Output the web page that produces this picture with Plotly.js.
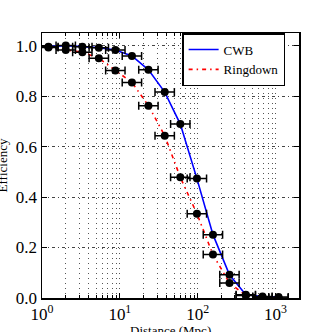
<!DOCTYPE html>
<html>
<head>
<meta charset="utf-8">
<script src="https://cdn.plot.ly/plotly-3.0.1.min.js"></script>
<style>
  html, body { margin: 0; padding: 0; background: #fff; }
  #graph { width: 332px; height: 332px; }
</style>
</head>
<body>
<div id="graph"></div>
<script>
// distance bins (Mpc), shared by both searches
const distance = [1.21, 2.02, 3.3, 5.37, 8.76, 14.3, 23.3, 37.7, 59.8, 97.7, 157, 256, 415, 679, 1092];
const cwbEff = [0.996, 1.0, 0.996, 0.992, 0.983, 0.959, 0.904, 0.816, 0.689, 0.473, 0.251, 0.092, 0.013, 0.006, 0.004];
const ringdownEff = [0.993, 0.983, 0.974, 0.95, 0.901, 0.854, 0.762, 0.643, 0.478, 0.334, 0.172, 0.059, 0.01, 0.003, 0.0];

const xTickVals = [1, 10, 100, 1000];
const xTickText = ['10<sup>0</sup>', '10<sup>1</sup>', '10<sup>2</sup>', '10<sup>3</sup>'];
const yTickVals = [0, 0.2, 0.4, 0.6, 0.8, 1.0];

let minorVals = [];
for (let d = 1; d <= 1000; d *= 10) {
    for (let k = 2; k <= 9; k++) minorVals.push(k * d);
}

const serif = 'Liberation Serif, DejaVu Serif, serif';
const gridDots = '1px,4px';

let errBars = {
    type: 'percent',
    symmetric: false,
    value: 33,
    valueminus: 25,
    color: 'black',
    thickness: 1.5,
    width: 4
};

let cwb_line = {
    type: 'scatter', mode: 'lines',
    x: distance, y: cwbEff,
    name: 'CWB',
    line: {color: '#0000ff', width: 1.6}
};

let ringdown_line = {
    type: 'scatter', mode: 'lines',
    x: distance, y: ringdownEff,
    name: 'Ringdown',
    line: {color: '#ff0000', width: 1.6, dash: '4px,4px,1.5px,4px'}
};

let cwb_points = {
    type: 'scatter', mode: 'markers',
    x: distance, y: cwbEff,
    showlegend: false,
    marker: {color: 'black', size: 8},
    error_x: errBars
};

let ringdown_points = {
    type: 'scatter', mode: 'markers',
    x: distance, y: ringdownEff,
    showlegend: false,
    marker: {color: 'black', size: 8},
    error_x: errBars
};

let layout = {
    width: 332, height: 332,
    margin: {l: 42, r: 33, t: 33, b: 34},
    paper_bgcolor: 'white',
    plot_bgcolor: 'white',
    font: {family: serif, size: 17, color: 'black'},
    showlegend: true,
    legend: {
        x: 0.946, xanchor: 'right',
        y: 1, yanchor: 'top',
        bgcolor: 'white',
        bordercolor: 'black',
        borderwidth: 1.5,
        font: {family: serif, size: 13},
        itemwidth: 30,
        tracegroupgap: 0
    },
    xaxis: {
        type: 'log',
        range: [0, Math.log10(2000)],
        tickmode: 'array',
        tickvals: xTickVals,
        ticktext: xTickText,
        ticks: 'inside', ticklen: 5, tickcolor: 'black',
        showline: true, linecolor: 'black', linewidth: 1.5, mirror: 'ticks',
        showgrid: true, gridcolor: '#555', griddash: gridDots, gridwidth: 1,
        zeroline: false,
        minor: {
            tickmode: 'array', tickvals: minorVals,
            ticks: 'inside', ticklen: 3, tickcolor: 'black',
            showgrid: true, gridcolor: '#555', griddash: gridDots, gridwidth: 1
        },
        automargin: false
    },
    yaxis: {
        range: [0, 1.05],
        tickmode: 'array',
        tickvals: yTickVals,
        tickformat: '.1f',
        ticks: 'inside', ticklen: 5, tickcolor: 'black',
        showline: true, linecolor: 'black', linewidth: 1.5, mirror: 'ticks',
        showgrid: true, gridcolor: '#444', griddash: '3px,3px,1px,3px', gridwidth: 1,
        zeroline: false,
        automargin: false
    },
    // axis titles sit partly outside the canvas, as in the cropped original
    annotations: [
        {text: 'Distance (Mpc)', xref: 'paper', yref: 'paper', x: 0.5, y: -0.122,
         xanchor: 'center', yanchor: 'middle', showarrow: false, font: {size: 13}},
        {text: 'Efficiency', xref: 'paper', yref: 'paper', x: -0.152, y: 0.5,
         xanchor: 'center', yanchor: 'middle', textangle: -90, showarrow: false, font: {size: 13}}
    ]
};

let config = {staticPlot: true, displayModeBar: false};

Plotly.newPlot('graph', [cwb_line, ringdown_line, cwb_points, ringdown_points], layout, config);
</script>
</body>
</html>
